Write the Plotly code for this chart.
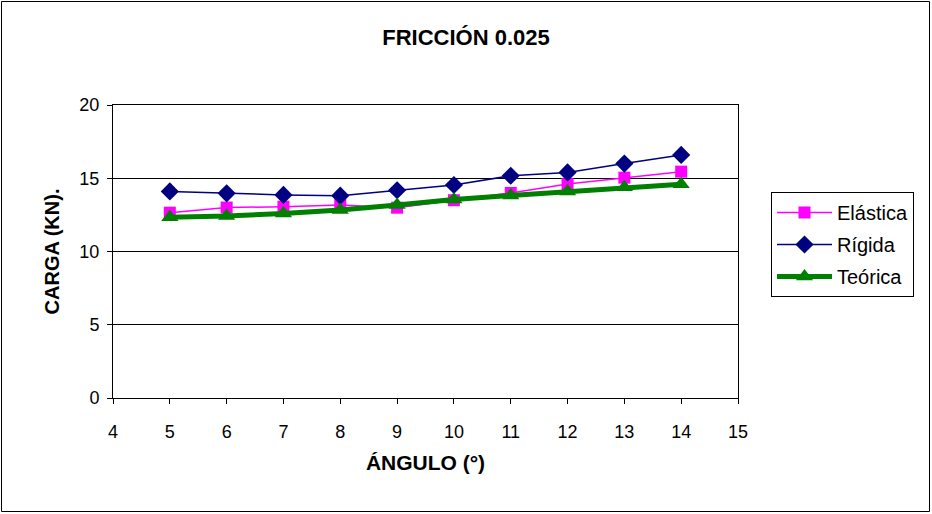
import plotly.graph_objects as go

angulo = [5, 6, 7, 8, 9, 10, 11, 12, 13, 14]
elastica = [12.65, 13.0, 13.06, 13.17, 12.99, 13.5, 14.0, 14.6, 15.04, 15.45]
rigida = [14.1, 13.97, 13.86, 13.81, 14.18, 14.54, 15.17, 15.4, 16.0, 16.59]
teorica = [12.33, 12.42, 12.6, 12.83, 13.17, 13.55, 13.83, 14.09, 14.38, 14.59]

FONT = "Liberation Sans, Arial, sans-serif"
W, H = 932, 514
ML, MR, MT, MB = 113, 194, 105, 116
PW, PH = W - ML - MR, H - MT - MB

fig = go.Figure()
fig.add_trace(go.Scatter(
    x=angulo, y=elastica, name="Elástica", mode="lines+markers",
    line=dict(color="#ff00ff", width=1.5),
    marker=dict(symbol="square", size=12, color="#ff00ff"),
    legendgroup="a",
))
fig.add_trace(go.Scatter(
    x=angulo, y=rigida, name="Rígida", mode="lines+markers",
    line=dict(color="#000080", width=1.5),
    marker=dict(symbol="diamond", size=14, color="#000080"),
    legendgroup="b",
))
fig.add_trace(go.Scatter(
    x=angulo, y=teorica, name="Teórica", mode="lines+markers",
    line=dict(color="#008000", width=5),
    marker=dict(symbol="triangle-up", size=15, color="#008000"),
    legendgroup="c",
))

# outer chart border
fig.add_shape(
    type="rect", xref="paper", yref="paper",
    x0=(1.5 - ML) / PW, x1=(929.5 - ML) / PW,
    y0=(PH + MT - 511.5) / PH, y1=(PH + MT - 1.5) / PH,
    line=dict(color="black", width=1),
)

fig.update_layout(
    width=W, height=H,
    margin=dict(l=ML, r=MR, t=MT, b=MB),
    paper_bgcolor="white", plot_bgcolor="white",
    font=dict(family=FONT, size=18, color="black"),
    title=dict(text="<b>FRICCIÓN 0.025</b>", x=0.5, xanchor="center",
               y=1 - 37 / H, yanchor="middle", font=dict(size=22)),
    xaxis=dict(
        range=[4, 15], dtick=1, tick0=4, showgrid=False,
        showline=True, linecolor="black", linewidth=1, mirror=True,
        ticks="outside", ticklen=5, tickcolor="black",
        tickfont=dict(size=18), ticklabelstandoff=12,
        title=dict(text="<b>ÁNGULO (°)</b>", font=dict(size=21), standoff=14),
        zeroline=False,
    ),
    yaxis=dict(
        range=[0, 20], dtick=5, showgrid=True, gridcolor="black", gridwidth=1,
        showline=True, linecolor="black", linewidth=1, mirror=True,
        ticks="outside", ticklen=5, tickcolor="black",
        tickfont=dict(size=18), ticklabelstandoff=4,
        title=dict(text="<b>CARGA (KN).</b>", font=dict(size=20), standoff=14),
        zeroline=False,
    ),
    legend=dict(
        x=(771 - ML) / PW, y=(MT + PH - 192) / PH, xanchor="left", yanchor="top",
        bordercolor="black", borderwidth=1, bgcolor="white",
        font=dict(size=20), itemwidth=55, tracegroupgap=3,
        traceorder="grouped",
    ),
)

fig.write_html("out.html", config={"displayModeBar": False},
               post_script="document.body.style.margin='0';")
